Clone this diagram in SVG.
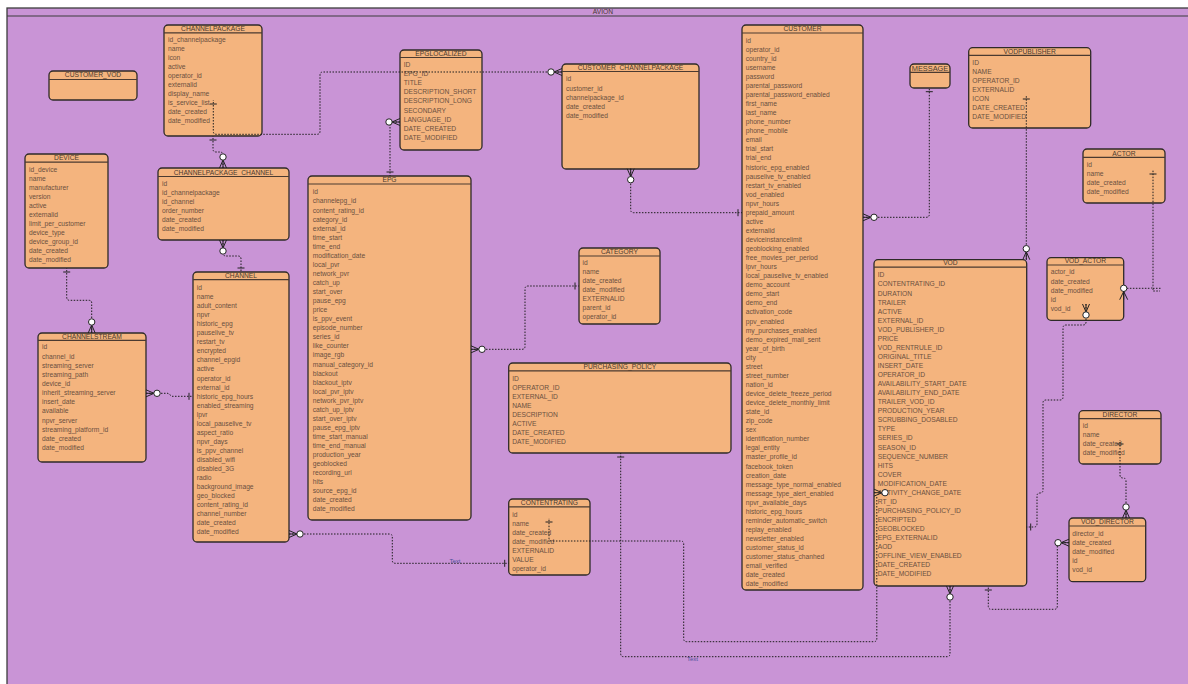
<svg xmlns="http://www.w3.org/2000/svg" width="1188" height="684" viewBox="0 0 1188 684">
<style>
.node rect{fill:#f4b47e;stroke:#2e2a28;stroke-width:1.3}
.hd{stroke:#4a3a30;stroke-width:1.2}
.t{font-family:"Liberation Sans",Arial,sans-serif;font-size:6.7px;fill:#4a3a2e;text-anchor:middle}
.f{font-family:"Liberation Sans",Arial,sans-serif;font-size:6.7px;fill:#6b5040}
.c{fill:none;stroke:#1e1e1e;stroke-width:1;stroke-dasharray:1.5 1.5}
.m{fill:none;stroke:#222;stroke-width:1}
.lbl{font-family:"Liberation Sans",Arial,sans-serif;font-size:6px;fill:#4d4f9a;text-anchor:middle}
</style>
<defs>
<marker id="many" markerUnits="userSpaceOnUse" orient="auto" overflow="visible" markerWidth="1" markerHeight="1" refX="0" refY="0">
<path class="m" d="M0,-3.5 L8,0 L0,3.5 M0,0 H8"/>
<circle cx="11" cy="0" r="3.2" fill="#fff" stroke="#222" stroke-width="1"/>
</marker>
<marker id="one" markerUnits="userSpaceOnUse" orient="auto" overflow="visible" markerWidth="1" markerHeight="1" refX="0" refY="0">
<path class="m" d="M-4,-3.5 V3.5"/>
</marker>
</defs>
<rect x="0" y="0" width="1188" height="684" fill="#ffffff"/>
<g id="avion">
<rect x="7" y="8" width="1195" height="690" fill="#c994d6" stroke="#3d3d3d" stroke-width="1.3"/>
<line x1="7" y1="16" x2="1188" y2="16" stroke="#3d3d3d" stroke-width="1.2"/>
<text class="t" x="603" y="14.2">AVION</text>
</g>

<g id="channelpackage" class="node"><rect x="164" y="25" width="98" height="111" rx="4"/><line class="hd" x1="164" y1="32.8" x2="262" y2="32.8"/><text class="t" x="213" y="31.3">CHANNELPACKAGE</text>
<text class="f"><tspan x="168" y="42.4">id_channelpackage</tspan><tspan x="168" dy="9">name</tspan><tspan x="168" dy="9">icon</tspan><tspan x="168" dy="9">active</tspan><tspan x="168" dy="9">operator_id</tspan><tspan x="168" dy="9">externalid</tspan><tspan x="168" dy="9">display_name</tspan><tspan x="168" dy="9">is_service_list</tspan><tspan x="168" dy="9">date_created</tspan><tspan x="168" dy="9">date_modified</tspan></text></g>

<g id="customer_vod" class="node"><rect x="49" y="71" width="88" height="29" rx="4"/><line class="hd" x1="49" y1="79.5" x2="137" y2="79.5"/><text class="t" x="93" y="76.8">CUSTOMER_VOD</text></g>

<g id="device" class="node"><rect x="25" y="154" width="83" height="114" rx="4"/><line class="hd" x1="25" y1="162.2" x2="108" y2="162.2"/><text class="t" x="66.5" y="160.4">DEVICE</text>
<text class="f"><tspan x="29" y="171.7">id_device</tspan><tspan x="29" dy="9.07">name</tspan><tspan x="29" dy="9.07">manufacturer</tspan><tspan x="29" dy="9.07">version</tspan><tspan x="29" dy="9.07">active</tspan><tspan x="29" dy="9.07">externalid</tspan><tspan x="29" dy="9.07">limit_per_customer</tspan><tspan x="29" dy="9.07">device_type</tspan><tspan x="29" dy="9.07">device_group_id</tspan><tspan x="29" dy="9.07">date_created</tspan><tspan x="29" dy="9.07">date_modified</tspan></text></g>

<g id="channelpackage_channel" class="node"><rect x="158" y="168" width="131" height="72" rx="4"/><line class="hd" x1="158" y1="176.5" x2="289" y2="176.5"/><text class="t" x="223.5" y="174.7">CHANNELPACKAGE_CHANNEL</text>
<text class="f"><tspan x="162" y="186">id</tspan><tspan x="162" dy="9.08">id_channelpackage</tspan><tspan x="162" dy="9.08">id_channel</tspan><tspan x="162" dy="9.08">order_number</tspan><tspan x="162" dy="9.08">date_created</tspan><tspan x="162" dy="9.08">date_modified</tspan></text></g>

<g id="channel" class="node"><rect x="193" y="272" width="96" height="270" rx="4"/><line class="hd" x1="193" y1="279.6" x2="289" y2="279.6"/><text class="t" x="241" y="278.1">CHANNEL</text>
<text class="f"><tspan x="196.7" y="290.1">id</tspan><tspan x="196.7" dy="9.04">name</tspan><tspan x="196.7" dy="9.04">adult_content</tspan><tspan x="196.7" dy="9.04">npvr</tspan><tspan x="196.7" dy="9.04">historic_epg</tspan><tspan x="196.7" dy="9.04">pauselive_tv</tspan><tspan x="196.7" dy="9.04">restart_tv</tspan><tspan x="196.7" dy="9.04">encrypted</tspan><tspan x="196.7" dy="9.04">channel_epgid</tspan><tspan x="196.7" dy="9.04">active</tspan><tspan x="196.7" dy="9.04">operator_id</tspan><tspan x="196.7" dy="9.04">external_id</tspan><tspan x="196.7" dy="9.04">historic_epg_hours</tspan><tspan x="196.7" dy="9.04">enabled_streaming</tspan><tspan x="196.7" dy="9.04">lpvr</tspan><tspan x="196.7" dy="9.04">local_pauselive_tv</tspan><tspan x="196.7" dy="9.04">aspect_ratio</tspan><tspan x="196.7" dy="9.04">npvr_days</tspan><tspan x="196.7" dy="9.04">is_ppv_channel</tspan><tspan x="196.7" dy="9.04">disabled_wifi</tspan><tspan x="196.7" dy="9.04">disabled_3G</tspan><tspan x="196.7" dy="9.04">radio</tspan><tspan x="196.7" dy="9.04">background_image</tspan><tspan x="196.7" dy="9.04">geo_blocked</tspan><tspan x="196.7" dy="9.04">content_rating_id</tspan><tspan x="196.7" dy="9.04">channel_number</tspan><tspan x="196.7" dy="9.04">date_created</tspan><tspan x="196.7" dy="9.04">date_modified</tspan></text></g>

<g id="channelstream" class="node"><rect x="38" y="333" width="108" height="129" rx="4"/><line class="hd" x1="38" y1="340.4" x2="146" y2="340.4"/><text class="t" x="92" y="338.7">CHANNELSTREAM</text>
<text class="f"><tspan x="42" y="349.4">id</tspan><tspan x="42" dy="9.15">channel_id</tspan><tspan x="42" dy="9.15">streaming_server</tspan><tspan x="42" dy="9.15">streaming_path</tspan><tspan x="42" dy="9.15">device_id</tspan><tspan x="42" dy="9.15">inherit_streaming_server</tspan><tspan x="42" dy="9.15">insert_date</tspan><tspan x="42" dy="9.15">available</tspan><tspan x="42" dy="9.15">npvr_server</tspan><tspan x="42" dy="9.15">streaming_platform_id</tspan><tspan x="42" dy="9.15">date_created</tspan><tspan x="42" dy="9.15">date_modified</tspan></text></g>

<g id="epglocalized" class="node"><rect x="400" y="50" width="82" height="100" rx="4"/><line class="hd" x1="400" y1="57.5" x2="482" y2="57.5"/><text class="t" x="441" y="55.7">EPGLOCALIZED</text>
<text class="f"><tspan x="403.7" y="66.7">ID</tspan><tspan x="403.7" dy="9.16">EPG_ID</tspan><tspan x="403.7" dy="9.16">TITLE</tspan><tspan x="403.7" dy="9.16">DESCRIPTION_SHORT</tspan><tspan x="403.7" dy="9.16">DESCRIPTION_LONG</tspan><tspan x="403.7" dy="9.16">SECONDARY</tspan><tspan x="403.7" dy="9.16">LANGUAGE_ID</tspan><tspan x="403.7" dy="9.16">DATE_CREATED</tspan><tspan x="403.7" dy="9.16">DATE_MODIFIED</tspan></text></g>

<g id="epg" class="node"><rect x="308" y="176" width="163" height="344" rx="4"/><line class="hd" x1="308" y1="184" x2="471" y2="184"/><text class="t" x="389.5" y="182.4">EPG</text>
<text class="f"><tspan x="312.7" y="194.4">id</tspan><tspan x="312.7" dy="9.06">channelepg_id</tspan><tspan x="312.7" dy="9.06">content_rating_id</tspan><tspan x="312.7" dy="9.06">category_id</tspan><tspan x="312.7" dy="9.06">external_id</tspan><tspan x="312.7" dy="9.06">time_start</tspan><tspan x="312.7" dy="9.06">time_end</tspan><tspan x="312.7" dy="9.06">modification_date</tspan><tspan x="312.7" dy="9.06">local_pvr</tspan><tspan x="312.7" dy="9.06">network_pvr</tspan><tspan x="312.7" dy="9.06">catch_up</tspan><tspan x="312.7" dy="9.06">start_over</tspan><tspan x="312.7" dy="9.06">pause_epg</tspan><tspan x="312.7" dy="9.06">price</tspan><tspan x="312.7" dy="9.06">is_ppv_event</tspan><tspan x="312.7" dy="9.06">episode_number</tspan><tspan x="312.7" dy="9.06">series_id</tspan><tspan x="312.7" dy="9.06">like_counter</tspan><tspan x="312.7" dy="9.06">image_rgb</tspan><tspan x="312.7" dy="9.06">manual_category_id</tspan><tspan x="312.7" dy="9.06">blackout</tspan><tspan x="312.7" dy="9.06">blackout_iptv</tspan><tspan x="312.7" dy="9.06">local_pvr_iptv</tspan><tspan x="312.7" dy="9.06">network_pvr_iptv</tspan><tspan x="312.7" dy="9.06">catch_up_iptv</tspan><tspan x="312.7" dy="9.06">start_over_iptv</tspan><tspan x="312.7" dy="9.06">pause_epg_iptv</tspan><tspan x="312.7" dy="9.06">time_start_manual</tspan><tspan x="312.7" dy="9.06">time_end_manual</tspan><tspan x="312.7" dy="9.06">production_year</tspan><tspan x="312.7" dy="9.06">geoblocked</tspan><tspan x="312.7" dy="9.06">recording_url</tspan><tspan x="312.7" dy="9.06">hits</tspan><tspan x="312.7" dy="9.06">source_epg_id</tspan><tspan x="312.7" dy="9.06">date_created</tspan><tspan x="312.7" dy="9.06">date_modified</tspan></text></g>

<g id="customer_channelpackage" class="node"><rect x="562" y="64" width="137" height="105" rx="4"/><line class="hd" x1="562" y1="71.5" x2="699" y2="71.5"/><text class="t" x="630.5" y="69.7">CUSTOMER_CHANNELPACKAGE</text>
<text class="f"><tspan x="566" y="81.4">id</tspan><tspan x="566" dy="9.17">customer_id</tspan><tspan x="566" dy="9.17">channelpackage_id</tspan><tspan x="566" dy="9.17">date_created</tspan><tspan x="566" dy="9.17">date_modified</tspan></text></g>

<g id="category" class="node"><rect x="579" y="248" width="81" height="76" rx="4"/><line class="hd" x1="579" y1="256" x2="660" y2="256"/><text class="t" x="619.5" y="254.1">CATEGORY</text>
<text class="f"><tspan x="582.5" y="265.1">id</tspan><tspan x="582.5" dy="9">name</tspan><tspan x="582.5" dy="9">date_created</tspan><tspan x="582.5" dy="9">date_modified</tspan><tspan x="582.5" dy="9">EXTERNALID</tspan><tspan x="582.5" dy="9">parent_id</tspan><tspan x="582.5" dy="9">operator_id</tspan></text></g>

<g id="purchasing_policy" class="node"><rect x="508.7" y="363" width="222.3" height="90" rx="4"/><line class="hd" x1="508.7" y1="370.8" x2="731" y2="370.8"/><text class="t" x="619.9" y="369.1">PURCHASING_POLICY</text>
<text class="f"><tspan x="512.2" y="381.1">ID</tspan><tspan x="512.2" dy="9.04">OPERATOR_ID</tspan><tspan x="512.2" dy="9.04">EXTERNAL_ID</tspan><tspan x="512.2" dy="9.04">NAME</tspan><tspan x="512.2" dy="9.04">DESCRIPTION</tspan><tspan x="512.2" dy="9.04">ACTIVE</tspan><tspan x="512.2" dy="9.04">DATE_CREATED</tspan><tspan x="512.2" dy="9.04">DATE_MODIFIED</tspan></text></g>

<g id="contentrating" class="node"><rect x="508.7" y="499" width="81.3" height="76" rx="4"/><line class="hd" x1="508.7" y1="506.8" x2="590" y2="506.8"/><text class="t" x="549.4" y="505.1">CONTENTRATING</text>
<text class="f"><tspan x="512.2" y="517.1">id</tspan><tspan x="512.2" dy="9">name</tspan><tspan x="512.2" dy="9">date_created</tspan><tspan x="512.2" dy="9">date_modified</tspan><tspan x="512.2" dy="9">EXTERNALID</tspan><tspan x="512.2" dy="9">VALUE</tspan><tspan x="512.2" dy="9">operator_id</tspan></text></g>

<g id="customer" class="node"><rect x="742" y="25" width="121" height="565" rx="4"/><line class="hd" x1="742" y1="33" x2="863" y2="33"/><text class="t" x="802.5" y="31.4">CUSTOMER</text>
<text class="f"><tspan x="745.7" y="42.7">id</tspan><tspan x="745.7" dy="9.06">operator_id</tspan><tspan x="745.7" dy="9.06">country_id</tspan><tspan x="745.7" dy="9.06">username</tspan><tspan x="745.7" dy="9.06">password</tspan><tspan x="745.7" dy="9.06">parental_password</tspan><tspan x="745.7" dy="9.06">parental_password_enabled</tspan><tspan x="745.7" dy="9.06">first_name</tspan><tspan x="745.7" dy="9.06">last_name</tspan><tspan x="745.7" dy="9.06">phone_number</tspan><tspan x="745.7" dy="9.06">phone_mobile</tspan><tspan x="745.7" dy="9.06">email</tspan><tspan x="745.7" dy="9.06">trial_start</tspan><tspan x="745.7" dy="9.06">trial_end</tspan><tspan x="745.7" dy="9.06">historic_epg_enabled</tspan><tspan x="745.7" dy="9.06">pauselive_tv_enabled</tspan><tspan x="745.7" dy="9.06">restart_tv_enabled</tspan><tspan x="745.7" dy="9.06">vod_enabled</tspan><tspan x="745.7" dy="9.06">npvr_hours</tspan><tspan x="745.7" dy="9.06">prepaid_amount</tspan><tspan x="745.7" dy="9.06">active</tspan><tspan x="745.7" dy="9.06">externalid</tspan><tspan x="745.7" dy="9.06">deviceinstancelimit</tspan><tspan x="745.7" dy="9.06">geoblocking_enabled</tspan><tspan x="745.7" dy="9.06">free_movies_per_period</tspan><tspan x="745.7" dy="9.06">lpvr_hours</tspan><tspan x="745.7" dy="9.06">local_pauselive_tv_enabled</tspan><tspan x="745.7" dy="9.06">demo_account</tspan><tspan x="745.7" dy="9.06">demo_start</tspan><tspan x="745.7" dy="9.06">demo_end</tspan><tspan x="745.7" dy="9.06">activation_code</tspan><tspan x="745.7" dy="9.06">ppv_enabled</tspan><tspan x="745.7" dy="9.06">my_purchases_enabled</tspan><tspan x="745.7" dy="9.06">demo_expired_mail_sent</tspan><tspan x="745.7" dy="9.06">year_of_birth</tspan><tspan x="745.7" dy="9.06">city</tspan><tspan x="745.7" dy="9.06">street</tspan><tspan x="745.7" dy="9.06">street_number</tspan><tspan x="745.7" dy="9.06">nation_id</tspan><tspan x="745.7" dy="9.06">device_delete_freeze_period</tspan><tspan x="745.7" dy="9.06">device_delete_monthly_limit</tspan><tspan x="745.7" dy="9.06">state_id</tspan><tspan x="745.7" dy="9.06">zip_code</tspan><tspan x="745.7" dy="9.06">sex</tspan><tspan x="745.7" dy="9.06">identification_number</tspan><tspan x="745.7" dy="9.06">legal_entity</tspan><tspan x="745.7" dy="9.06">master_profile_id</tspan><tspan x="745.7" dy="9.06">facebook_token</tspan><tspan x="745.7" dy="9.06">creation_date</tspan><tspan x="745.7" dy="9.06">message_type_normal_enabled</tspan><tspan x="745.7" dy="9.06">message_type_alert_enabled</tspan><tspan x="745.7" dy="9.06">npvr_available_days</tspan><tspan x="745.7" dy="9.06">historic_epg_hours</tspan><tspan x="745.7" dy="9.06">reminder_automatic_switch</tspan><tspan x="745.7" dy="9.06">replay_enabled</tspan><tspan x="745.7" dy="9.06">newsletter_enabled</tspan><tspan x="745.7" dy="9.06">customer_status_id</tspan><tspan x="745.7" dy="9.06">customer_status_chanhed</tspan><tspan x="745.7" dy="9.06">email_verified</tspan><tspan x="745.7" dy="9.06">date_created</tspan><tspan x="745.7" dy="9.06">date_modified</tspan></text></g>

<g id="message" class="node"><rect x="910" y="64" width="40" height="24" rx="4"/><line class="hd" x1="910" y1="72.3" x2="950" y2="72.3"/><text class="t" x="930" y="70.7" style="font-size:7.4px">MESSAGE</text></g>

<g id="vodpublisher" class="node"><rect x="968.7" y="47.7" width="122" height="80.3" rx="4"/><line class="hd" x1="968.7" y1="55.4" x2="1090.7" y2="55.4"/><text class="t" x="1029.7" y="53.7">VODPUBLISHER</text>
<text class="f"><tspan x="972.3" y="65.1">ID</tspan><tspan x="972.3" dy="9">NAME</tspan><tspan x="972.3" dy="9">OPERATOR_ID</tspan><tspan x="972.3" dy="9">EXTERNALID</tspan><tspan x="972.3" dy="9">ICON</tspan><tspan x="972.3" dy="9">DATE_CREATED</tspan><tspan x="972.3" dy="9">DATE_MODIFIED</tspan></text></g>

<g id="actor" class="node"><rect x="1083" y="149" width="82" height="54" rx="4"/><line class="hd" x1="1083" y1="157.3" x2="1165" y2="157.3"/><text class="t" x="1124" y="155.7">ACTOR</text>
<text class="f"><tspan x="1086.7" y="167.1">id</tspan><tspan x="1086.7" dy="9.1">name</tspan><tspan x="1086.7" dy="9.1">date_created</tspan><tspan x="1086.7" dy="9.1">date_modified</tspan></text></g>

<g id="vod_actor" class="node"><rect x="1047" y="257.7" width="76.7" height="62.6" rx="4"/><line class="hd" x1="1047" y1="265" x2="1123.7" y2="265"/><text class="t" x="1085.4" y="263.4">VOD_ACTOR</text>
<text class="f"><tspan x="1050.7" y="274.4">actor_id</tspan><tspan x="1050.7" dy="9.25">date_created</tspan><tspan x="1050.7" dy="9.25">date_modified</tspan><tspan x="1050.7" dy="9.25">id</tspan><tspan x="1050.7" dy="9.25">vod_id</tspan></text></g>

<g id="vod" class="node"><rect x="874" y="259.7" width="152.7" height="326.3" rx="4"/><line class="hd" x1="874" y1="267.2" x2="1026.7" y2="267.2"/><text class="t" x="950.4" y="265.4">VOD</text>
<text class="f"><tspan x="877.7" y="277.4">ID</tspan><tspan x="877.7" dy="9.06">CONTENTRATING_ID</tspan><tspan x="877.7" dy="9.06">DURATION</tspan><tspan x="877.7" dy="9.06">TRAILER</tspan><tspan x="877.7" dy="9.06">ACTIVE</tspan><tspan x="877.7" dy="9.06">EXTERNAL_ID</tspan><tspan x="877.7" dy="9.06">VOD_PUBLISHER_ID</tspan><tspan x="877.7" dy="9.06">PRICE</tspan><tspan x="877.7" dy="9.06">VOD_RENTRULE_ID</tspan><tspan x="877.7" dy="9.06">ORIGINAL_TITLE</tspan><tspan x="877.7" dy="9.06">INSERT_DATE</tspan><tspan x="877.7" dy="9.06">OPERATOR_ID</tspan><tspan x="877.7" dy="9.06">AVAILABILITY_START_DATE</tspan><tspan x="877.7" dy="9.06">AVAILABILITY_END_DATE</tspan><tspan x="877.7" dy="9.06">TRAILER_VOD_ID</tspan><tspan x="877.7" dy="9.06">PRODUCTION_YEAR</tspan><tspan x="877.7" dy="9.06">SCRUBBING_DOSABLED</tspan><tspan x="877.7" dy="9.06">TYPE</tspan><tspan x="877.7" dy="9.06">SERIES_ID</tspan><tspan x="877.7" dy="9.06">SEASON_ID</tspan><tspan x="877.7" dy="9.06">SEQUENCE_NUMBER</tspan><tspan x="877.7" dy="9.06">HITS</tspan><tspan x="877.7" dy="9.06">COVER</tspan><tspan x="877.7" dy="9.06">MODIFICATION_DATE</tspan><tspan x="877.7" dy="9.06">ACTIVITY_CHANGE_DATE</tspan><tspan x="877.7" dy="9.06">RT_ID</tspan><tspan x="877.7" dy="9.06">PURCHASING_POLICY_ID</tspan><tspan x="877.7" dy="9.06">ENCRIPTED</tspan><tspan x="877.7" dy="9.06">GEOBLOCKED</tspan><tspan x="877.7" dy="9.06">EPG_EXTERNALID</tspan><tspan x="877.7" dy="9.06">AOD</tspan><tspan x="877.7" dy="9.06">OFFLINE_VIEW_ENABLED</tspan><tspan x="877.7" dy="9.06">DATE_CREATED</tspan><tspan x="877.7" dy="9.06">DATE_MODIFIED</tspan></text></g>

<g id="director" class="node"><rect x="1079" y="410.7" width="82" height="53.3" rx="4"/><line class="hd" x1="1079" y1="418.7" x2="1161" y2="418.7"/><text class="t" x="1120" y="417.1">DIRECTOR</text>
<text class="f"><tspan x="1082.7" y="428.4">id</tspan><tspan x="1082.7" dy="9">name</tspan><tspan x="1082.7" dy="9">date_created</tspan><tspan x="1082.7" dy="9">date_modified</tspan></text></g>

<g id="vod_director" class="node"><rect x="1069" y="518" width="76.7" height="63.7" rx="4"/><line class="hd" x1="1069" y1="526" x2="1145.7" y2="526"/><text class="t" x="1107.4" y="524.4">VOD_DIRECTOR</text>
<text class="f"><tspan x="1072.3" y="536.1">director_id</tspan><tspan x="1072.3" dy="9">date_created</tspan><tspan x="1072.3" dy="9">date_modified</tspan><tspan x="1072.3" dy="9">id</tspan><tspan x="1072.3" dy="9">vod_id</tspan></text></g>

<g id="connectors">
<path class="c" marker-start="url(#many)" marker-end="url(#one)" d="M223,168 V155 Q223,152 220,152 H216 Q213,152 213,149 V136"/>
<path class="c" marker-start="url(#many)" marker-end="url(#one)" d="M223,240 V253 Q223,256 226,256 H238 Q241,256 241,259 V272"/>
<path class="c" marker-start="url(#many)" marker-end="url(#one)" d="M91.7,333 V303 Q91.7,300.3 88.7,300.3 H69.7 Q66.7,300.3 66.7,297.3 V268"/>
<path class="c" marker-start="url(#many)" marker-end="url(#one)" d="M146,393.3 H168 L172,396.3 H193"/>
<path class="c" marker-start="url(#many)" marker-end="url(#one)" d="M289,534 H389.3 Q392.3,534 392.3,537 V560.3 Q392.3,563.3 395.3,563.3 H508.7"/>
<path class="c" marker-start="url(#many)" marker-end="url(#one)" d="M400,122 H390 V176"/>
<path class="c" marker-start="url(#many)" marker-end="url(#one)" d="M471,349.3 H522 Q525,349.3 525,346.3 V289 Q525,286 528,286 H579"/>
<path class="c" marker-start="url(#many)" marker-end="url(#one)" d="M562,72 H323 Q320,72 320,75 V131.3 Q320,134.3 317,134.3 H216.3 Q213.3,134.3 213.3,131.3 V100"/>
<path class="c" marker-start="url(#many)" marker-end="url(#one)" d="M630.7,168.7 V209.7 Q630.7,212.7 633.7,212.7 H742"/>
<path class="c" marker-start="url(#many)" marker-end="url(#one)" d="M863,217.3 H926.3 Q929.3,217.3 929.3,214.3 V87.7"/>
<path class="c" marker-start="url(#many)" marker-end="url(#one)" d="M1026.3,259.7 V95"/>
<path class="c" marker-end="url(#one)" d="M1126.9,288.3 H1150 Q1153,288.3 1153,285.3 V170"/>
<path class="c" d="M1153,288.3 H1162 M1153,288.3 V291 H1160"/>
<circle cx="1123.7" cy="288.3" r="3.2" fill="#fff" stroke="#222" stroke-width="1"/>
<path class="m" d="M1123.7,291.5 L1119.7,299.7 M1123.7,291.5 L1127.7,299.7 M1123.7,291.5 V299.7"/>
<path class="c" marker-start="url(#many)" marker-end="url(#one)" d="M1086,304 V322 Q1086,325 1083,325 H1066 Q1063,325 1063,328 V397 Q1063,400 1060,400 H1046 Q1043,400 1043,403 V490 Q1043,493 1040,493 Q1037,493 1037,496 V524 Q1037,527 1034,527 H1026.7"/>
<path class="c" marker-start="url(#many)" marker-end="url(#one)" d="M1126,518 V481 Q1126,478 1123,478 Q1120,478 1120,475 V440"/>
<path class="c" marker-start="url(#many)" marker-end="url(#one)" d="M1069,542.7 H1057.3 V606.3 Q1057.3,609.3 1054.3,609.3 H991.3 Q988.3,609.3 988.3,606.3 V586"/>
<path class="c" marker-start="url(#many)" marker-end="url(#one)" d="M874,492.7 H877 M876.8,497 V638.7 Q876.8,641.7 873.8,641.7 H686.7 Q683.7,641.7 683.7,638.7 V544 Q683.7,541 680.7,541 H552 Q549,541 549,538 V518"/>
<path class="c" marker-start="url(#many)" marker-end="url(#one)" d="M950,586 V653.7 Q950,656.7 947,656.7 H623.7 Q620.7,656.7 620.7,653.7 V453"/>
<text class="lbl" x="455" y="562.6">Text</text>
<text class="lbl" x="692.5" y="660.8">Text</text>
</g>
</svg>
